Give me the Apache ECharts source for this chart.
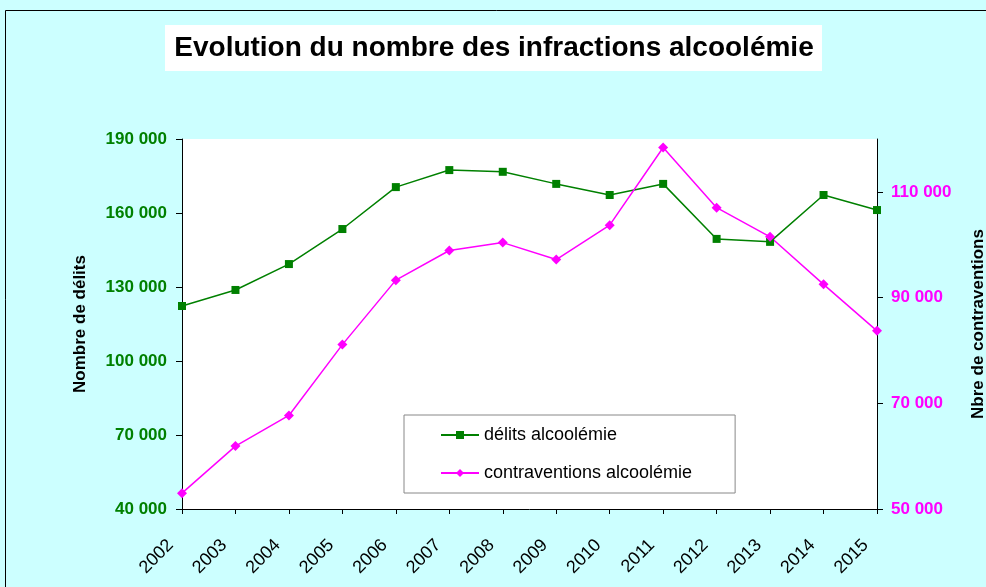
<!DOCTYPE html>
<html>
<head>
<meta charset="utf-8">
<script src="https://cdn.jsdelivr.net/npm/echarts@6/dist/echarts.min.js"></script>
<style>
html, body { margin: 0; padding: 0; background: #fff; }
#chart { width: 986px; height: 587px; }
</style>
</head>
<body>
<div id="chart"></div>
<script>
// données
var years = ['2002','2003','2004','2005','2006','2007','2008','2009','2010','2011','2012','2013','2014','2015'];
var delits = [122300, 128800, 139300, 153500, 170500, 177400, 176700, 171800, 167300, 171800, 149500, 148300, 167300, 161200];
var contraventions = [53000, 61900, 67700, 81100, 93300, 98900, 100400, 97200, 103700, 118400, 107000, 101500, 92500, 83700];
var leftTicks = [40000, 70000, 100000, 130000, 160000, 190000];
var rightTicks = [50000, 70000, 90000, 110000];

function fmt(v) {
    return String(v).replace(/\B(?=(\d{3})+(?!\d))/g, ' ');
}

var myChart = echarts.init(document.getElementById('chart'));
var option = {
    backgroundColor: '#CCFFFF',
    animation: false,
    textStyle: { fontFamily: 'Liberation Sans, Arial, sans-serif' },
    graphic: [
        {
            type: 'rect',
            shape: { x: 5.5, y: 10.5, width: 1000, height: 600 },
            style: { fill: 'none', stroke: '#000', lineWidth: 1 },
            silent: true
        },
        {
            type: 'rect',
            shape: { x: 165, y: 25, width: 657, height: 46 },
            style: { fill: '#fff' },
            silent: true
        },
        {
            type: 'text',
            x: 494, y: 48,
            style: {
                text: 'Evolution du nombre des infractions alcoolémie',
                font: 'bold 28px "Liberation Sans", Arial, sans-serif',
                fill: '#000',
                align: 'center',
                verticalAlign: 'middle'
            }
        }
    ],
    legend: {
        orient: 'vertical',
        left: 404,
        top: 415,
        padding: [11, 43, 11, 36],
        itemGap: 20,
        itemWidth: 38,
        itemHeight: 10,
        backgroundColor: '#fff',
        borderColor: '#888',
        borderWidth: 1,
        textStyle: { fontSize: 18, color: '#000' },
        data: ['délits alcoolémie', 'contraventions alcoolémie']
    },
    grid: {
        left: 182,
        right: 109,
        top: 139,
        bottom: 78,
        outerBoundsMode: 'none',
        show: true,
        backgroundColor: '#fff',
        borderWidth: 0
    },
    xAxis: {
        type: 'category',
        boundaryGap: false,
        data: years,
        axisLine: { lineStyle: { color: '#000' } },
        axisTick: { alignWithLabel: true, length: 5, lineStyle: { color: '#000' } },
        axisLabel: { rotate: 45, color: '#000', fontSize: 18, margin: 22, padding: [0, 16, 0, 0] },
        splitLine: { show: false }
    },
    yAxis: [
        {
            type: 'value',
            min: 40000,
            max: 190000,
            interval: 30000,
            name: 'Nombre de délits',
            nameLocation: 'middle',
            nameGap: 93,
            nameRotate: 90,
            nameTextStyle: { color: '#000', fontWeight: 'bold', fontSize: 17 },
            axisLine: { show: true, lineStyle: { color: '#000' } },
            axisTick: { show: true, length: 6, lineStyle: { color: '#000' } },
            axisLabel: {
                color: '#008000', fontWeight: 'bold', fontSize: 17, margin: 15,
                customValues: leftTicks,
                formatter: fmt
            },
            splitLine: { show: false }
        },
        {
            type: 'value',
            min: 50000,
            max: 120000,
            interval: 20000,
            position: 'right',
            name: 'Nbre de contraventions',
            nameLocation: 'middle',
            nameGap: 93,
            nameRotate: 90,
            nameTextStyle: { color: '#000', fontWeight: 'bold', fontSize: 17 },
            axisLine: { show: true, lineStyle: { color: '#000' } },
            axisTick: { show: true, length: 6, lineStyle: { color: '#000' }, customValues: rightTicks },
            axisLabel: {
                color: '#FF00FF', fontWeight: 'bold', fontSize: 17, margin: 14,
                customValues: rightTicks,
                formatter: fmt
            },
            splitLine: { show: false }
        }
    ],
    series: [
        {
            name: 'délits alcoolémie',
            type: 'line',
            yAxisIndex: 0,
            symbol: 'rect',
            symbolSize: 8,
            showAllSymbol: true,
            lineStyle: { color: '#008000', width: 1.5 },
            itemStyle: { color: '#008000' },
            data: delits
        },
        {
            name: 'contraventions alcoolémie',
            type: 'line',
            yAxisIndex: 1,
            symbol: 'diamond',
            symbolSize: 10,
            showAllSymbol: true,
            lineStyle: { color: '#FF00FF', width: 1.5 },
            itemStyle: { color: '#FF00FF' },
            data: contraventions
        }
    ]
};
myChart.setOption(option);
</script>
</body>
</html>
